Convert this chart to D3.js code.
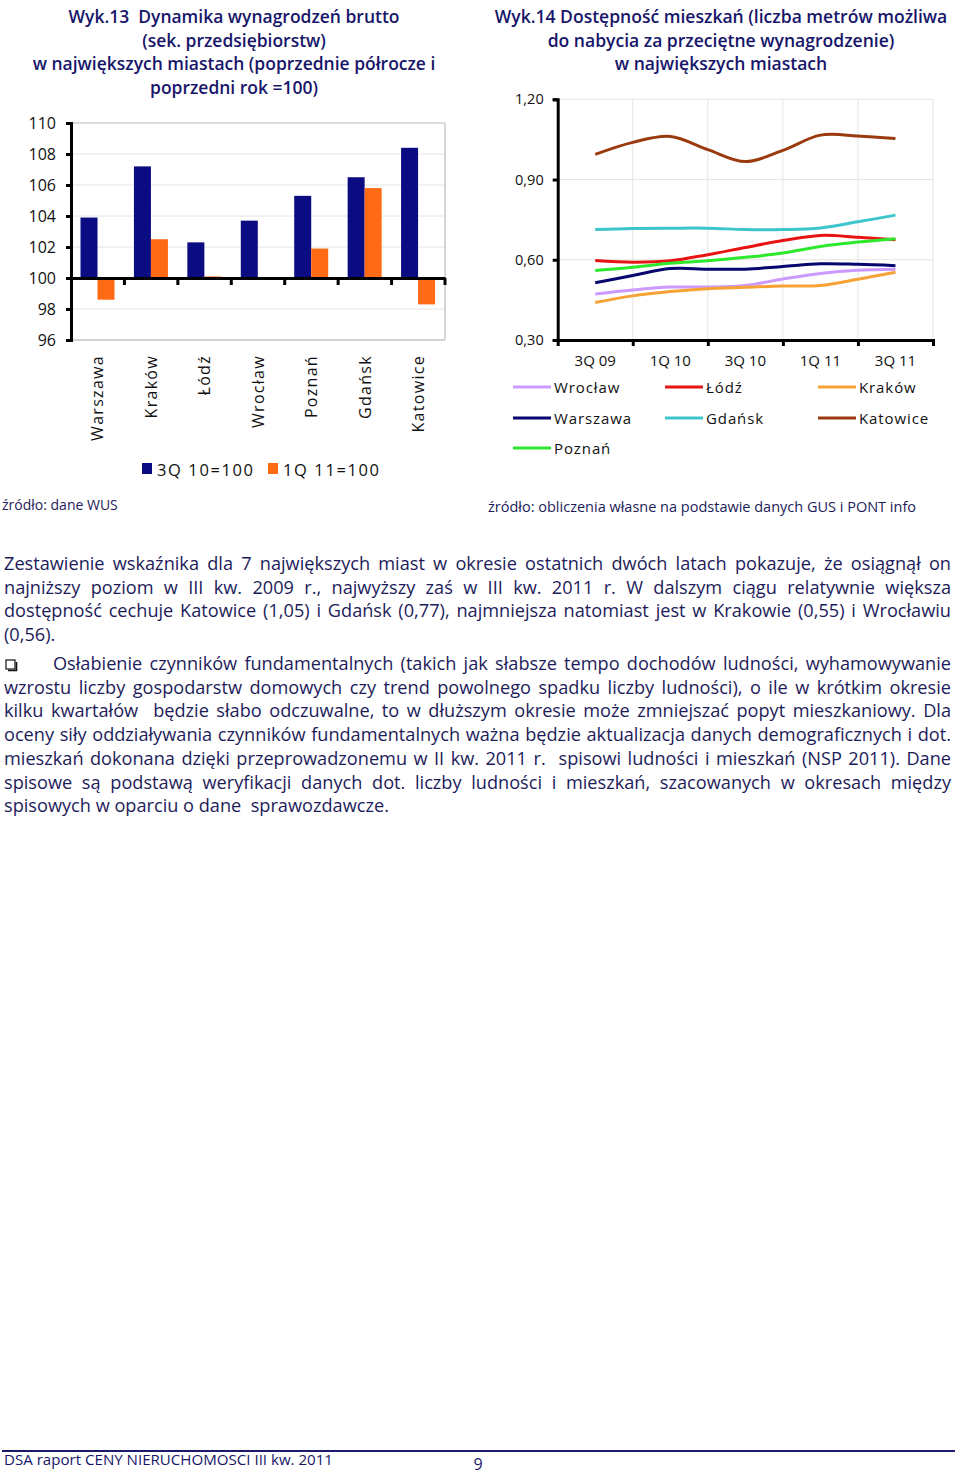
<!DOCTYPE html>
<html><head><meta charset="utf-8">
<script src="https://cdn.jsdelivr.net/npm/d3@7"></script>
<style>
html,body{margin:0;padding:0;background:#fff;}
svg{display:block;}
text{font-family:"Open Sans","Noto Sans",sans-serif;}
</style></head>
<body>
<svg id="c" width="960" height="1474"></svg>
<script>
// ---------- DATA ----------
const cities13 = ["Warszawa","Kraków","Łódź","Wrocław","Poznań","Gdańsk","Katowice"];
const series13 = ["3Q 10=100","1Q 11=100"];
const vals3Q10 = [103.9,107.2,102.3,103.7,105.3,106.5,108.4];
const vals1Q11 = [98.6,102.5,100.1,100.05,101.9,105.8,98.3];
const ticks13 = [96,98,100,102,104,106,108,110];

const quarters = ["3Q 09","4Q 09","1Q 10","2Q 10","3Q 10","4Q 10","1Q 11","2Q 11","3Q 11"];
const qLabels = ["3Q 09","1Q 10","3Q 10","1Q 11","3Q 11"];
const ticks14 = [0.30,0.60,0.90,1.20];
const wroclaw  = [0.472,0.487,0.498,0.498,0.504,0.528,0.549,0.561,0.565];
const lodz     = [0.597,0.591,0.596,0.619,0.646,0.672,0.691,0.684,0.675];
const krakow   = [0.440,0.465,0.481,0.492,0.497,0.502,0.504,0.527,0.553];
const warszawa = [0.514,0.541,0.567,0.565,0.565,0.575,0.585,0.583,0.578];
const gdansk   = [0.713,0.717,0.718,0.718,0.713,0.713,0.719,0.742,0.767];
const katowice = [0.994,1.039,1.061,1.012,0.967,1.009,1.066,1.063,1.053];
const poznan   = [0.560,0.572,0.587,0.596,0.609,0.625,0.650,0.666,0.679];
const lineNames = ["Wrocław","Łódź","Kraków","Warszawa","Gdańsk","Katowice","Poznań"];
const lineData = [wroclaw,lodz,krakow,warszawa,gdansk,katowice,poznan];

const title13 = ["Wyk.13  Dynamika wynagrodzeń brutto","(sek. przedsiębiorstw)","w największych miastach (poprzednie półrocze i","poprzedni rok =100)"];
const title14 = ["Wyk.14 Dostępność mieszkań (liczba metrów możliwa","do nabycia za przeciętne wynagrodzenie)","w największych miastach"];
const source13 = "źródło: dane WUS";
const source14 = "źródło: obliczenia własne na podstawie danych GUS i PONT info";
const para1 = [
 "Zestawienie wskaźnika dla 7 największych miast w okresie ostatnich dwóch latach pokazuje, że osiągnął on",
 "najniższy poziom w III kw. 2009 r., najwyższy zaś w III kw. 2011 r. W dalszym ciągu relatywnie większa",
 "dostępność cechuje Katowice (1,05) i Gdańsk (0,77), najmniejsza natomiast jest w Krakowie (0,55) i Wrocławiu",
 "(0,56)."];
const para2 = [
 "Osłabienie czynników fundamentalnych (takich jak słabsze tempo dochodów ludności, wyhamowywanie",
 "wzrostu liczby gospodarstw domowych czy trend powolnego spadku liczby ludności), o ile w krótkim okresie",
 "kilku kwartałów  będzie słabo odczuwalne, to w dłuższym okresie może zmniejszać popyt mieszkaniowy. Dla",
 "oceny siły oddziaływania czynników fundamentalnych ważna będzie aktualizacja danych demograficznych i dot.",
 "mieszkań dokonana dzięki przeprowadzonemu w II kw. 2011 r.  spisowi ludności i mieszkań (NSP 2011). Dane",
 "spisowe są podstawą weryfikacji danych dot. liczby ludności i mieszkań, szacowanych w okresach między",
 "spisowych w oparciu o dane  sprawozdawcze."];
const footerText = "DSA raport CENY NIERUCHOMOSCI III kw. 2011";
const pageNo = "9";

// ---------- STYLE ----------
const NAVY_T = "#17166a";
const TXT = "#1d1c5a";
const BAR_C = ["#0b0b82","#ff6a14"];
const LINE_C = {"Wrocław":"#cc99ff","Łódź":"#e81414","Kraków":"#f7a235","Warszawa":"#06066e","Gdańsk":"#3cc6cb","Katowice":"#9a3a0e","Poznań":"#2ee82e"};
const GRID = "#e4e4e4";

const svg = d3.select("#c");

function fitFont(sel, target, base){
  sel.attr("font-size", base);
  const w = sel.node().getComputedTextLength();
  sel.attr("font-size", base*target/w);
  return base*target/w;
}

// ---------- TITLES ----------
function drawTitle(lines, cx, y0, refIdx, refW){
  const g = svg.append("g");
  const ts = g.selectAll("text").data(lines).join("text")
    .attr("x", cx).attr("y",(d,i)=>y0+i*23.7)
    .attr("text-anchor","middle").attr("fill",NAVY_T)
    .attr("font-weight",600).style("white-space","pre").text(d=>d);
  const fs = fitFont(d3.select(ts.nodes()[refIdx]), refW, 19);
  ts.attr("font-size", fs);
}
drawTitle(title13, 234, 23, 2, 403);
drawTitle(title14, 721, 23, 0, 453);

// ---------- CHART 13 (bars) ----------
const L = {x0:71, x1:445, yTop:123, yBot:340};
const x0 = d3.scaleBand().domain(cities13).range([L.x0, L.x1]);
const x1 = d3.scaleBand().domain(series13).range([9.5, 43.5]);
const y13 = d3.scaleLinear().domain([96,110]).range([L.yBot, L.yTop]);

const g13 = svg.append("g");
g13.append("g").selectAll("line").data(ticks13).join("line")
  .attr("x1",L.x0).attr("x2",L.x1).attr("y1",d=>y13(d)).attr("y2",d=>y13(d))
  .attr("stroke",GRID).attr("stroke-width",1);
g13.append("line").attr("x1",L.x1).attr("x2",L.x1).attr("y1",L.yTop).attr("y2",L.yBot)
  .attr("stroke","#c8c8c8").attr("stroke-width",1.5);
g13.append("line").attr("x1",L.x0).attr("x2",L.x1).attr("y1",L.yBot).attr("y2",L.yBot)
  .attr("stroke","#c8c8c8").attr("stroke-width",1.5);
g13.append("line").attr("x1",L.x0).attr("x2",L.x1).attr("y1",L.yTop).attr("y2",L.yTop)
  .attr("stroke","#d4d4d4").attr("stroke-width",1.5);

const barData = [];
cities13.forEach((c,i)=>{ barData.push({c, s:series13[0], v:vals3Q10[i]}); barData.push({c, s:series13[1], v:vals1Q11[i]}); });
g13.append("g").selectAll("rect").data(barData).join("rect")
  .attr("x",d=>x0(d.c)+x1(d.s)).attr("width",x1.bandwidth())
  .attr("y",d=>Math.min(y13(d.v),y13(100)))
  .attr("height",d=>Math.abs(y13(d.v)-y13(100)))
  .attr("fill",d=>BAR_C[series13.indexOf(d.s)]);

// y axis
const ay13 = g13.append("g").attr("transform",`translate(${L.x0},0)`)
  .call(d3.axisLeft(y13).tickValues(ticks13).tickSize(5).tickFormat(d3.format("d")).tickPadding(10));
ay13.select(".domain").attr("stroke","#000").attr("stroke-width",3);
ay13.selectAll(".tick line").attr("stroke","#000").attr("stroke-width",3);
ay13.selectAll(".tick text").attr("font-size",16).attr("fill","#111")
  .attr("font-family","'Open Sans',sans-serif");
// x axis at 100
const ax13 = g13.append("g").attr("transform",`translate(0,${y13(100)})`)
  .call(d3.axisBottom(x0).tickSize(0).tickFormat(""));
ax13.select(".domain").attr("stroke","#000").attr("stroke-width",3);
ax13.selectAll(".tick").remove();
g13.append("g").selectAll("line").data(cities13).join("line")
  .attr("x1",d=>x0(d)+x0.bandwidth()).attr("x2",d=>x0(d)+x0.bandwidth())
  .attr("y1",y13(100)).attr("y2",y13(100)+7).attr("stroke","#000").attr("stroke-width",3);

// category labels rotated
g13.append("g").selectAll("text").data(cities13).join("text")
  .attr("transform",d=>`translate(${x0(d)+x0.bandwidth()/2},355) rotate(-90)`)
  .attr("text-anchor","end").attr("dy","0.36em")
  .attr("font-size",16).attr("letter-spacing",1.3).attr("fill","#111").text(d=>d);

// legend 13
const lg13 = g13.append("g");
const lg13x = [142,268];
series13.forEach((s,i)=>{
  lg13.append("rect").attr("x",lg13x[i]).attr("y",463).attr("width",10).attr("height",11).attr("fill",BAR_C[i]);
  lg13.append("text").attr("x",lg13x[i]+15).attr("y",476).attr("font-size",16.5)
    .attr("letter-spacing",1.6).attr("fill","#111").text(s);
});
svg.append("text").attr("x",2).attr("y",510).attr("font-size",14).attr("fill",TXT).text(source13);

// ---------- CHART 14 (lines) ----------
const R = {x0:557.7, x1:933, yTop:99.3, yBot:340};
const x14 = d3.scaleLinear().domain([-1, quarters.length]).range([R.x0, R.x1]);
const y14 = d3.scaleLinear().domain([0.30,1.20]).range([R.yBot, R.yTop]);
const g14 = svg.append("g");
const vTicks = d3.range(1, quarters.length+1, 2);
g14.append("g").selectAll("line").data(ticks14.slice(1)).join("line")
  .attr("x1",R.x0).attr("x2",R.x1).attr("y1",d=>y14(d)).attr("y2",d=>y14(d))
  .attr("stroke",GRID);
g14.append("g").selectAll("line").data(vTicks).join("line")
  .attr("x1",d=>x14(d)).attr("x2",d=>x14(d)).attr("y1",R.yTop).attr("y2",R.yBot)
  .attr("stroke",GRID);

const line = d3.line().x((d,i)=>x14(i)).y(d=>y14(d)).curve(d3.curveCatmullRom.alpha(0.5));
const drawOrder = ["Katowice","Gdańsk","Łódź","Poznań","Warszawa","Wrocław","Kraków"];
g14.append("g").selectAll("path").data(drawOrder).join("path")
  .attr("d",n=>line(lineData[lineNames.indexOf(n)]))
  .attr("fill","none").attr("stroke",n=>LINE_C[n]).attr("stroke-width",3)
  .attr("stroke-linejoin","round").attr("stroke-linecap","butt");

const ay14 = g14.append("g").attr("transform",`translate(${R.x0},0)`)
  .call(d3.axisLeft(y14).tickValues(ticks14).tickSize(5).tickPadding(9)
    .tickFormat(d=>d3.format(".2f")(d).replace(".",",")));
ay14.select(".domain").attr("stroke","#000").attr("stroke-width",3);
ay14.selectAll(".tick line").attr("stroke","#000").attr("stroke-width",3);
ay14.selectAll(".tick text").attr("font-size",14.5).attr("fill","#111").attr("font-family","'Open Sans',sans-serif");

const ax14 = g14.append("g").attr("transform",`translate(0,${R.yBot})`)
  .call(d3.axisBottom(x14).tickValues(vTicks).tickSize(6).tickFormat(""));
ax14.select(".domain").attr("stroke","#000").attr("stroke-width",3);
ax14.selectAll(".tick line").attr("stroke","#000").attr("stroke-width",3);
g14.append("g").selectAll("text").data(qLabels).join("text")
  .attr("x",d=>x14(quarters.indexOf(d))).attr("y",366)
  .attr("text-anchor","middle").attr("font-size",15).attr("fill","#111").text(d=>d);

// legend 14
const legRows = [["Wrocław","Łódź","Kraków"],["Warszawa","Gdańsk","Katowice"],["Poznań"]];
const legColX = [513,665,818];
const legRowY = [387,418,448];
legRows.forEach((row,ri)=>row.forEach((n,ci)=>{
  g14.append("line").attr("x1",legColX[ci]).attr("x2",legColX[ci]+38)
    .attr("y1",legRowY[ri]).attr("y2",legRowY[ri]).attr("stroke",LINE_C[n]).attr("stroke-width",3);
  g14.append("text").attr("x",legColX[ci]+41).attr("y",legRowY[ri]+5.5).attr("font-size",15)
    .attr("letter-spacing",0.9).attr("fill","#111").text(n);
}));
svg.append("text").attr("x",488).attr("y",512).attr("font-size",14.5).attr("fill",TXT).text(source14);

// ---------- PARAGRAPHS ----------
const P = {xl:4, xr:951};
const probe = svg.append("text").attr("font-size",17.4).style("white-space","pre").text(para2[para2.length-1]);
const pfs = 17.4*385/probe.node().getComputedTextLength();
probe.remove();
function drawPara(lines, y0, indent){
  const ts = svg.append("g").selectAll("text").data(lines).join("text")
    .attr("x",(d,i)=>i===0?P.xl+indent:P.xl).attr("y",(d,i)=>y0+i*23.7)
    .attr("font-size",pfs).attr("fill",TXT)
    .style("white-space","pre").text(d=>d);
  ts.each(function(d,i){
    if(i===lines.length-1) return;
    const w = this.getComputedTextLength();
    const spaces = (d.match(/ /g)||[]).length;
    const target = P.xr - (i===0?P.xl+indent:P.xl);
    d3.select(this).attr("word-spacing",(target-w)/spaces);
  });
}
drawPara(para1, 570, 0);
drawPara(para2, 670, 49);
// bullet
svg.append("rect").attr("x",6).attr("y",660).attr("width",9).attr("height",9)
  .attr("fill","none").attr("stroke","#111").attr("stroke-width",1.2);
svg.append("path").attr("d","M8,670.5 H16.5 V662").attr("fill","none").attr("stroke","#111").attr("stroke-width",1.6);

// ---------- FOOTER ----------
svg.append("line").attr("x1",2).attr("x2",955).attr("y1",1451).attr("y2",1451)
  .attr("stroke","#1c1b6b").attr("stroke-width",2);
const ft = svg.append("text").attr("x",4).attr("y",1465).attr("fill",NAVY_T)
  .attr("font-family","'Liberation Sans Narrow','Roboto Condensed',sans-serif")
  .attr("font-size",15).text(footerText);
ft.attr("textLength",329).attr("lengthAdjust","spacingAndGlyphs");
svg.append("text").attr("x",478).attr("y",1470).attr("text-anchor","middle")
  .attr("font-size",16).attr("fill",NAVY_T).text(pageNo);
</script>
</body></html>
